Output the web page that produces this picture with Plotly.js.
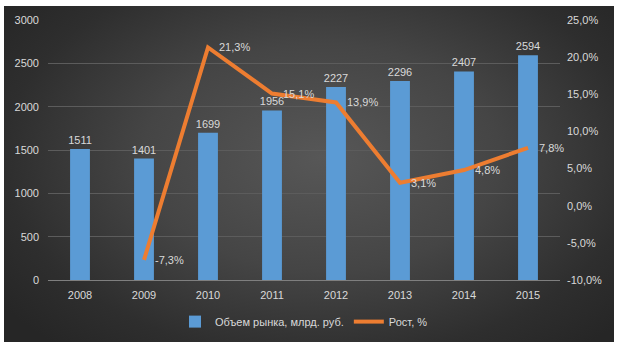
<!DOCTYPE html>
<html>
<head>
<meta charset="utf-8">
<script src="https://cdn.plot.ly/plotly-3.0.1.min.js"></script>
<style>
  html, body { margin: 0; padding: 0; background: #ffffff; }
  #wrap { position: absolute; left: 4px; top: 6px; width: 610px; height: 336px;
          background: radial-gradient(ellipse 65% 75% at 52% 45%, #575757 0%, #454545 45%, #2e2e2e 80%, #262626 100%); }
  #chart { width: 610px; height: 336px; }
</style>
</head>
<body>
<div id="wrap"><div id="chart"></div></div>
<script>
const years = ['2008', '2009', '2010', '2011', '2012', '2013', '2014', '2015'];
const marketVolume = [1511, 1401, 1699, 1956, 2227, 2296, 2407, 2594];
const growthPct = [null, -7.3, 21.3, 15.1, 13.9, 3.1, 4.8, 7.8];
const leftTicks = [0, 500, 1000, 1500, 2000, 2500, 3000];
const rightTicks = [-10, -5, 0, 5, 10, 15, 20, 25];
const barName = 'Объем рынка, млрд. руб.';
const lineName = 'Рост, %';

const fmtPct = v => v.toFixed(1).replace('.', ',') + '%';
const txtColor = '#d9d9d9';
const fontFam = 'Liberation Sans, Arial, sans-serif';

const bars = {
  type: 'bar', x: years, y: marketVolume, name: barName,
  marker: { color: '#5b9bd5' },
  text: marketVolume.map(String), textposition: 'outside', constraintext: 'none',
  textfont: { color: txtColor, size: 11, family: fontFam },
  cliponaxis: false, hoverinfo: 'skip'
};
const line = {
  type: 'scatter', mode: 'lines', x: years, y: growthPct, name: lineName,
  yaxis: 'y2', connectgaps: false,
  line: { color: '#ed7d31', width: 4 },
  cliponaxis: false, hoverinfo: 'skip'
};

const annotations = [];
years.forEach((yr, i) => {
  if (growthPct[i] === null) return;
  annotations.push({
    x: i, y: growthPct[i], xref: 'x', yref: 'y2', text: fmtPct(growthPct[i]),
    showarrow: false, xanchor: 'left', yanchor: 'middle', xshift: 9,
    font: { color: txtColor, size: 11, family: fontFam }
  });
});

const layout = {
  width: 610, height: 336,
  margin: { l: 44, r: 54, t: 14, b: 62, autoexpand: false },
  paper_bgcolor: 'rgba(0,0,0,0)', plot_bgcolor: 'rgba(0,0,0,0)',
  font: { family: fontFam, size: 11, color: txtColor },
  separators: ', ',
  bargap: 0.69,
  showlegend: true,
  annotations: annotations,
  legend: { orientation: 'h', x: 0.5, xanchor: 'center', y: -0.16, yanchor: 'middle',
            font: { size: 11, color: txtColor }, bgcolor: 'rgba(0,0,0,0)' },
  xaxis: { type: 'category', categoryorder: 'array', categoryarray: years, range: [-0.5, years.length - 0.5],
           showgrid: false, showline: true, linecolor: '#7f7f7f', linewidth: 1,
           ticks: '', ticklabelstandoff: 5, tickfont: { size: 11, color: txtColor } },
  yaxis: { range: [0, 3000], tickvals: leftTicks, ticktext: leftTicks.map(String),
           showgrid: true, gridcolor: '#5c5c5c', gridwidth: 1, ticklabelstandoff: 8,
           zeroline: false, showline: false, ticks: '', tickfont: { size: 11, color: txtColor } },
  yaxis2: { overlaying: 'y', side: 'right', range: [-10, 25], tickvals: rightTicks, ticktext: rightTicks.map(fmtPct),
            showgrid: false, zeroline: false, showline: false, ticks: '', ticklabelstandoff: 6,
            tickfont: { size: 11, color: txtColor } }
};

Plotly.newPlot('chart', [bars, line], layout, { displayModeBar: false, staticPlot: true });
</script>
</body>
</html>
